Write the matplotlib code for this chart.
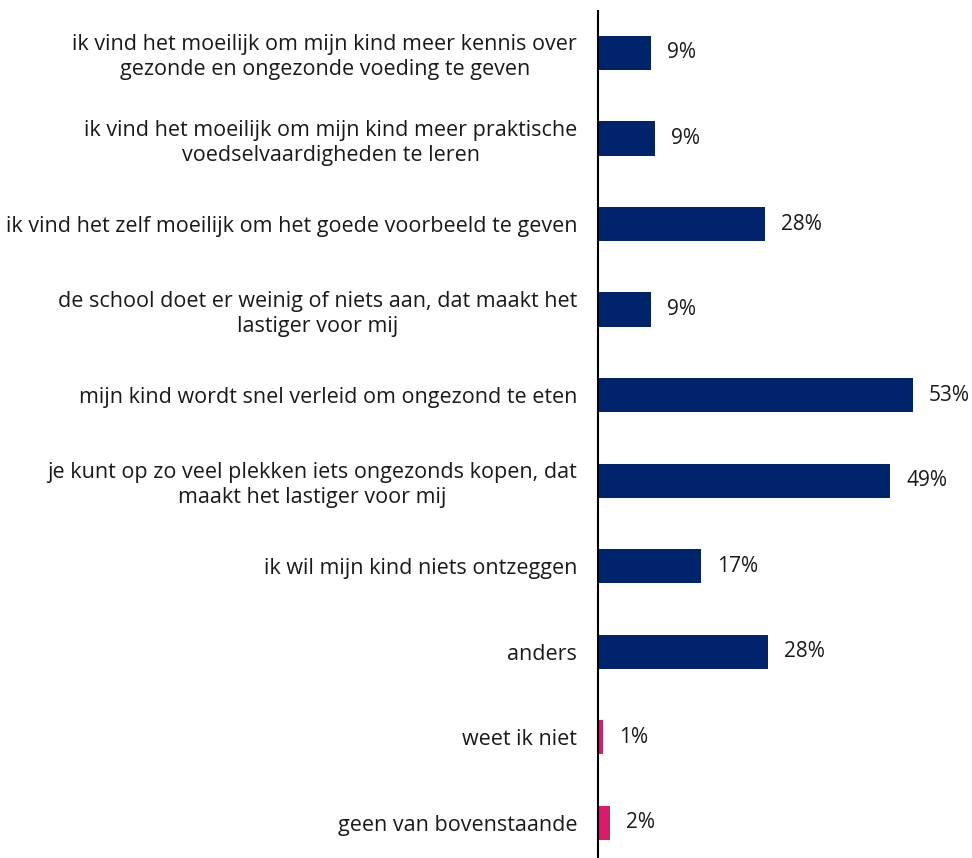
import matplotlib
matplotlib.use('Agg')
from matplotlib import pyplot as plt

categories = [
    'ik vind het moeilijk om mijn kind meer kennis over\ngezonde en ongezonde voeding te geven',
    'ik vind het moeilijk om mijn kind meer praktische\nvoedselvaardigheden te leren',
    'ik vind het zelf moeilijk om het goede voorbeeld te geven',
    'de school doet er weinig of niets aan, dat maakt het\nlastiger voor mij',
    'mijn kind wordt snel verleid om ongezond te eten',
    'je kunt op zo veel plekken iets ongezonds kopen, dat\nmaakt het lastiger voor mij',
    'ik wil mijn kind niets ontzeggen',
    'anders',
    'weet ik niet',
    'geen van bovenstaande',
]
values = [8.9, 9.6, 28.2, 8.9, 53.0, 49.2, 17.3, 28.7, 0.8, 2.1]
value_labels = ['9%', '9%', '28%', '9%', '53%', '49%', '17%', '28%', '1%', '2%']
navy = '#00246b'
pink = '#d81b6a'
colors = [navy] * 8 + [pink] * 2

plt.rcParams['font.family'] = ['Open Sans', 'DejaVu Sans']

fig = plt.figure(figsize=(9.72, 8.58), dpi=100)
ax = fig.add_axes([598 / 972, 0, 1 - 598 / 972, 1 - 11 / 858])

y = list(range(len(categories)))
ax.barh(y, values, height=0.4, color=colors)
for yi, v, lab in zip(y, values, value_labels):
    ax.annotate(lab, (v, yi), xytext=(11.5, 0), textcoords='offset points',
                va='center', ha='left', fontsize=15, color='#1a1a1a')

ax.set_yticks(y)
ax.set_yticklabels(categories, fontsize=15.5, color='#1a1a1a')
for lbl in ax.get_yticklabels():
    lbl.set_multialignment('center')
    lbl.set_linespacing(1.25)
ax.tick_params(axis='y', length=0, pad=15)
ax.set_xticks([])
ax.set_ylim(9.41, -0.49)
ax.set_xlim(0, 63)
for s in ['top', 'right', 'bottom']:
    ax.spines[s].set_visible(False)
ax.spines['left'].set_linewidth(1.5)
ax.spines['left'].set_color('black')

fig.savefig('out.png', dpi=100)
